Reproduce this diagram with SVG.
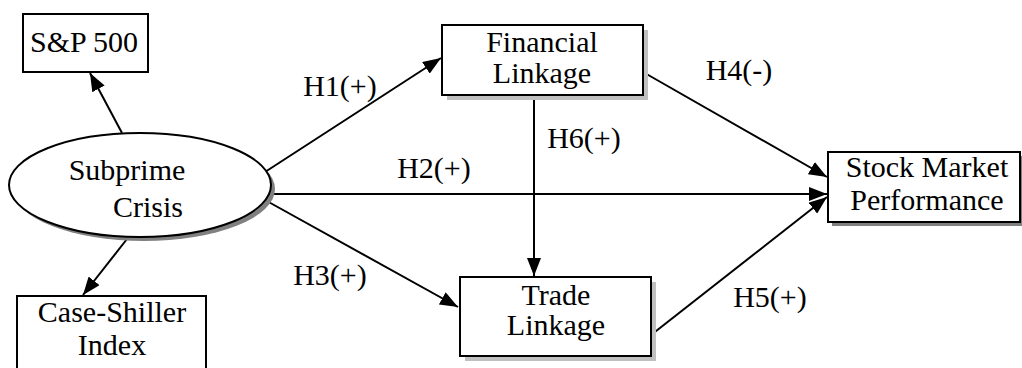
<svg xmlns="http://www.w3.org/2000/svg" width="1022" height="368" viewBox="0 0 1022 368" font-family="'Liberation Serif', serif">
<style>
text{font-family:'Liberation Serif',serif;font-size:30px;fill:#000;text-anchor:middle}
.box{fill:#fff;stroke:#000;stroke-width:2}
.shl{fill:#c0c0c0}
.shd{fill:#808080}
.edge{stroke:#000;stroke-width:2;fill:none;marker-end:url(#ah)}
</style>
<defs>
<marker id="ah" markerUnits="userSpaceOnUse" markerWidth="20" markerHeight="14" refX="18" refY="7" orient="auto">
<path d="M0,0 L18,7 L0,14 z" fill="#000"/>
</marker>
</defs>
<rect width="1022" height="368" fill="#fff"/>
<g id="connectors">
<line class="edge" x1="122" y1="133" x2="90" y2="73"/>
<line class="edge" x1="127" y1="239" x2="83" y2="295"/>
<line class="edge" x1="265" y1="172" x2="441" y2="58"/>
<line class="edge" x1="272" y1="194" x2="827" y2="194"/>
<line class="edge" x1="265" y1="200" x2="458" y2="307"/>
<line class="edge" x1="534" y1="96" x2="534" y2="276"/>
<line class="edge" x1="643" y1="72" x2="827" y2="177"/>
<line class="edge" x1="651" y1="335" x2="827" y2="197"/>
</g>
<g id="sp500">
<rect class="box" x="23" y="14" width="125" height="58"/>
<text x="84" y="52">S&amp;P 500</text>
</g>
<g id="subprime">
<ellipse class="shd" cx="144" cy="189" rx="131" ry="52"/>
<ellipse class="box" cx="140" cy="185" rx="131" ry="52"/>
<text x="127" y="180">Subprime</text>
<text x="148" y="217">Crisis</text>
</g>
<g id="caseshiller">
<rect class="box" x="17" y="296" width="189" height="80"/>
<text x="112" y="322">Case-Shiller</text>
<text x="112" y="355">Index</text>
</g>
<g id="financial">
<rect class="shl" x="447" y="30" width="201" height="70"/>
<rect class="box" x="442" y="25" width="201" height="70"/>
<text x="542" y="52">Financial</text>
<text x="542" y="83">Linkage</text>
</g>
<g id="trade">
<rect class="shl" x="465" y="282" width="191" height="79"/>
<rect class="box" x="460" y="277" width="191" height="79"/>
<text x="556" y="305">Trade</text>
<text x="556" y="335">Linkage</text>
</g>
<g id="stock">
<rect class="shd" x="832" y="156" width="192" height="70"/>
<rect class="box" x="828" y="152" width="192" height="70"/>
<text x="927" y="177">Stock Market</text>
<text x="927" y="210">Performance</text>
</g>
<g id="labels">
<text x="340" y="96">H1(+)</text>
<text x="434" y="178">H2(+)</text>
<text x="330" y="285">H3(+)</text>
<text x="739" y="80">H4(-)</text>
<text x="770" y="307">H5(+)</text>
<text x="584" y="148">H6(+)</text>
</g>
</svg>
